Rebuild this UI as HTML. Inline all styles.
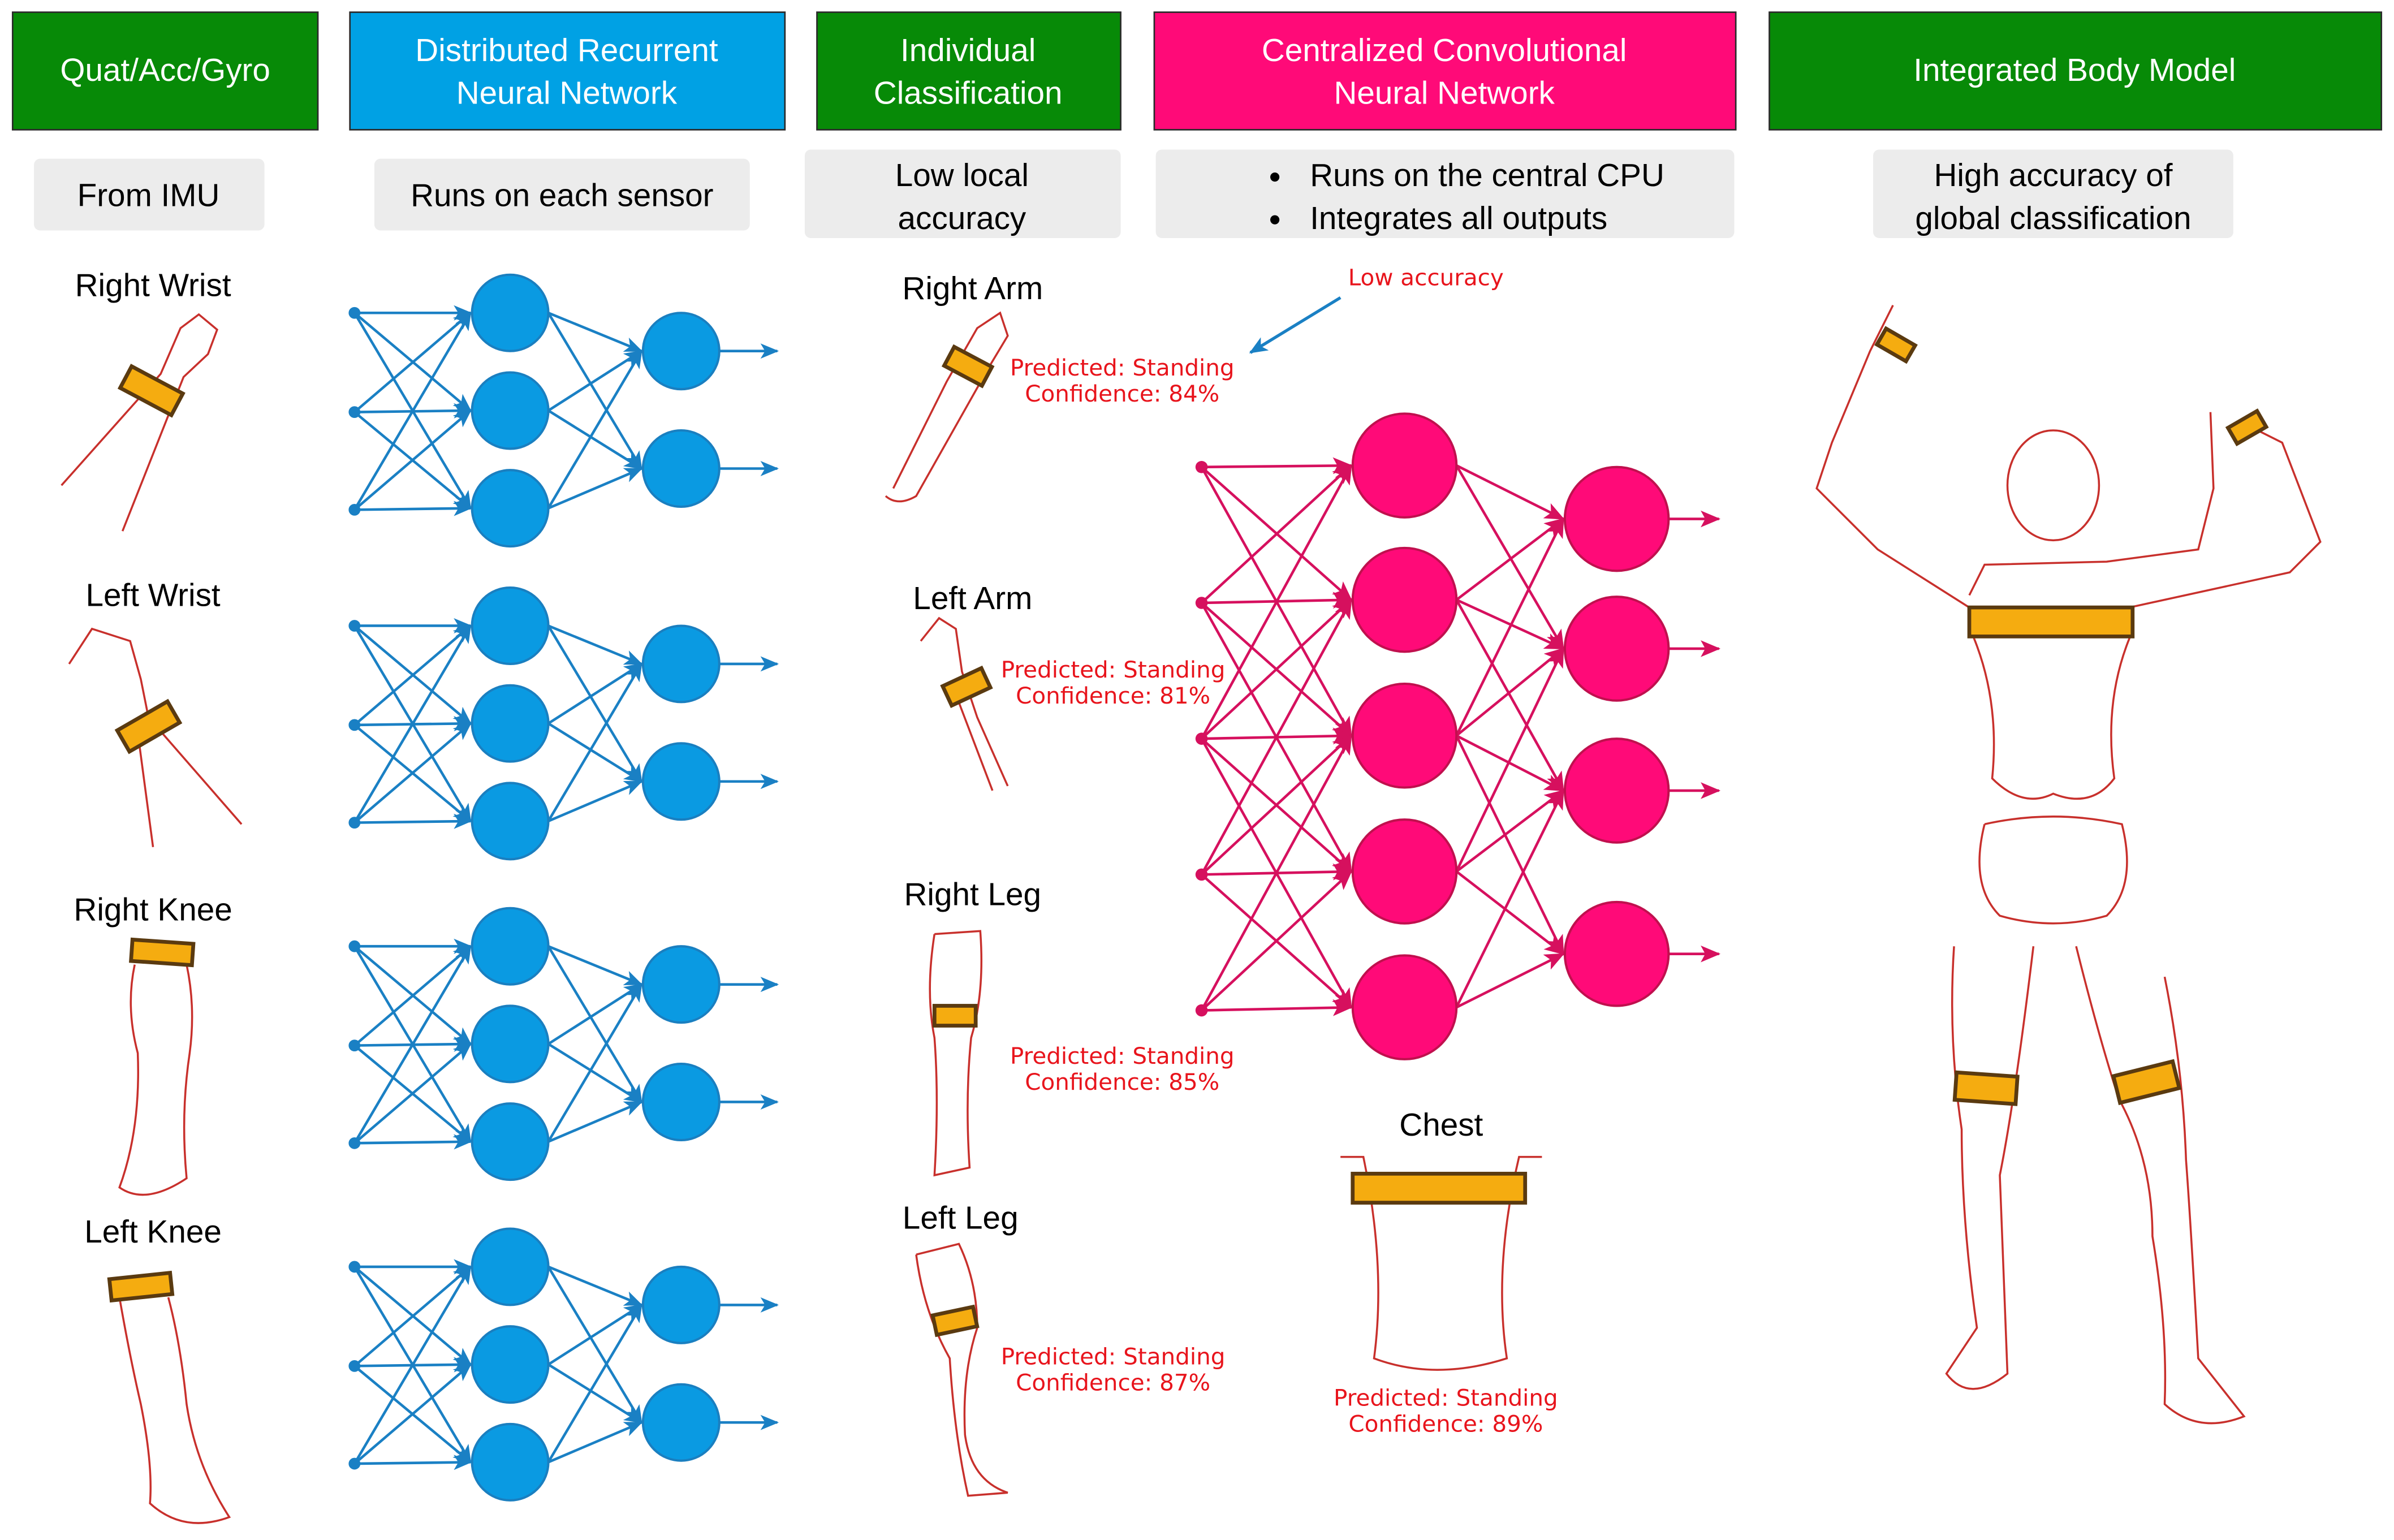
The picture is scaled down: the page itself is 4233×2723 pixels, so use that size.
<!DOCTYPE html>
<html><head><meta charset="utf-8"><style>
html,body{margin:0;padding:0;background:#fff}
svg{display:block}
text{font-family:"Liberation Sans",sans-serif}
.rd text{font-family:"DejaVu Sans",sans-serif}
</style></head><body>
<svg width="4233" height="2723" viewBox="0 0 1568 1009" xmlns="http://www.w3.org/2000/svg">
<defs>
<marker id="ab" markerWidth="12" markerHeight="10" refX="11" refY="5" orient="auto" markerUnits="userSpaceOnUse"><path d="M0,0 L12,5 L0,10 L3,5z" fill="#1a80c4"/></marker>
<marker id="ap" markerWidth="13" markerHeight="11" refX="12" refY="5.5" orient="auto" markerUnits="userSpaceOnUse"><path d="M0,0 L13,5.5 L0,11 L3,5.5z" fill="#d6105e"/></marker>
<g id="bn" stroke="#1a80c4" stroke-width="1.7" fill="none">
<g marker-end="url(#ab)">
<line x1="232" y1="205" x2="308" y2="205"/><line x1="232" y1="205" x2="308" y2="269"/><line x1="232" y1="205" x2="308" y2="333"/>
<line x1="232" y1="270" x2="308" y2="205"/><line x1="232" y1="270" x2="308" y2="269"/><line x1="232" y1="270" x2="308" y2="333"/>
<line x1="232" y1="334" x2="308" y2="205"/><line x1="232" y1="334" x2="308" y2="269"/><line x1="232" y1="334" x2="308" y2="333"/>
<line x1="359" y1="205" x2="420" y2="230"/><line x1="359" y1="205" x2="420" y2="307"/>
<line x1="359" y1="269" x2="420" y2="230"/><line x1="359" y1="269" x2="420" y2="307"/>
<line x1="359" y1="333" x2="420" y2="230"/><line x1="359" y1="333" x2="420" y2="307"/>
<line x1="471" y1="230" x2="509" y2="230"/><line x1="471" y1="307" x2="509" y2="307"/>
</g>
<circle cx="232" cy="205" r="3" fill="#1a80c4"/><circle cx="232" cy="270" r="3" fill="#1a80c4"/><circle cx="232" cy="334" r="3" fill="#1a80c4"/>
<g fill="#0a9ae2" stroke="#1a7fc0" stroke-width="1.5"><circle cx="334" cy="205" r="25"/><circle cx="334" cy="269" r="25"/><circle cx="334" cy="333" r="25"/><circle cx="446" cy="230" r="25"/><circle cx="446" cy="307" r="25"/></g>
</g>
</defs>

<g stroke="#2a2a2a" stroke-width="1">
<rect x="8" y="8" width="200" height="77" fill="#078a07"/>
<rect x="229" y="8" width="285" height="77" fill="#00a1e4"/>
<rect x="535" y="8" width="199" height="77" fill="#078a07"/>
<rect x="756" y="8" width="381" height="77" fill="#ff0a78"/>
<rect x="1159" y="8" width="401" height="77" fill="#078a07"/>
</g>
<g fill="#fff" font-size="21" text-anchor="middle">
<text x="108" y="53">Quat/Acc/Gyro</text>
<text x="371" y="40">Distributed Recurrent</text><text x="371" y="68">Neural Network</text>
<text x="634" y="40">Individual</text><text x="634" y="68">Classification</text>
<text x="946" y="40">Centralized Convolutional</text><text x="946" y="68">Neural Network</text>
<text x="1359" y="53">Integrated Body Model</text>
</g>
<g fill="#ececec">
<rect x="22" y="104" width="151" height="47" rx="4"/>
<rect x="245" y="104" width="246" height="47" rx="4"/>
<rect x="527" y="98" width="207" height="58" rx="4"/>
<rect x="757" y="98" width="379" height="58" rx="4"/>
<rect x="1227" y="98" width="236" height="58" rx="4"/>
</g>
<g fill="#000" font-size="21" text-anchor="middle">
<text x="97" y="135">From IMU</text>
<text x="368" y="135">Runs on each sensor</text>
<text x="630" y="122">Low local</text><text x="630" y="150">accuracy</text>
<text x="1345" y="122">High accuracy of</text><text x="1345" y="150">global classification</text>
</g>
<g font-size="21" fill="#000">
<circle cx="835" cy="116" r="3"/><text x="858" y="122">Runs on the central CPU</text>
<circle cx="835" cy="144" r="3"/><text x="858" y="150">Integrates all outputs</text>
</g>

<g font-size="21" fill="#000" text-anchor="middle">
<text x="100" y="194">Right Wrist</text>
<text x="100" y="397">Left Wrist</text>
<text x="100" y="603">Right Knee</text>
<text x="100" y="814">Left Knee</text>
<text x="637" y="196">Right Arm</text>
<text x="637" y="399">Left Arm</text>
<text x="637" y="593">Right Leg</text>
<text x="629" y="805">Left Leg</text>
<text x="944" y="744">Chest</text>
</g>
<g class="rd" font-size="15" fill="#e8141c" text-anchor="middle">
<text x="735" y="246">Predicted: Standing</text><text x="735" y="263">Confidence: 84%</text>
<text x="729" y="444">Predicted: Standing</text><text x="729" y="461">Confidence: 81%</text>
<text x="735" y="697">Predicted: Standing</text><text x="735" y="714">Confidence: 85%</text>
<text x="729" y="894">Predicted: Standing</text><text x="729" y="911">Confidence: 87%</text>
<text x="947" y="921">Predicted: Standing</text><text x="947" y="938">Confidence: 89%</text>
<text x="934" y="187">Low accuracy</text>
</g>
<line x1="878" y1="195" x2="819" y2="231" stroke="#1a80c4" stroke-width="2" marker-end="url(#ab)"/>

<use href="#bn"/>
<use href="#bn" transform="translate(0,205)"/>
<use href="#bn" transform="translate(0,415)"/>
<use href="#bn" transform="translate(0,625)"/>

<g stroke="#d6105e" stroke-width="1.7" fill="none" marker-end="url(#ap)">
<line x1="787" y1="306" x2="885" y2="305"/><line x1="787" y1="306" x2="885" y2="393"/><line x1="787" y1="306" x2="885" y2="482"/>
<line x1="787" y1="395" x2="885" y2="305"/><line x1="787" y1="395" x2="885" y2="393"/><line x1="787" y1="395" x2="885" y2="482"/><line x1="787" y1="395" x2="885" y2="571"/>
<line x1="787" y1="484" x2="885" y2="305"/><line x1="787" y1="484" x2="885" y2="393"/><line x1="787" y1="484" x2="885" y2="482"/><line x1="787" y1="484" x2="885" y2="571"/><line x1="787" y1="484" x2="885" y2="660"/>
<line x1="787" y1="573" x2="885" y2="393"/><line x1="787" y1="573" x2="885" y2="482"/><line x1="787" y1="573" x2="885" y2="571"/><line x1="787" y1="573" x2="885" y2="660"/>
<line x1="787" y1="662" x2="885" y2="482"/><line x1="787" y1="662" x2="885" y2="571"/><line x1="787" y1="662" x2="885" y2="660"/>
<line x1="954" y1="305" x2="1024" y2="340"/><line x1="954" y1="305" x2="1024" y2="425"/>
<line x1="954" y1="393" x2="1024" y2="340"/><line x1="954" y1="393" x2="1024" y2="425"/><line x1="954" y1="393" x2="1024" y2="518"/>
<line x1="954" y1="482" x2="1024" y2="340"/><line x1="954" y1="482" x2="1024" y2="425"/><line x1="954" y1="482" x2="1024" y2="518"/><line x1="954" y1="482" x2="1024" y2="625"/>
<line x1="954" y1="571" x2="1024" y2="425"/><line x1="954" y1="571" x2="1024" y2="518"/><line x1="954" y1="571" x2="1024" y2="625"/>
<line x1="954" y1="660" x2="1024" y2="518"/><line x1="954" y1="660" x2="1024" y2="625"/>
<line x1="1093" y1="340" x2="1126" y2="340"/><line x1="1093" y1="425" x2="1126" y2="425"/><line x1="1093" y1="518" x2="1126" y2="518"/><line x1="1093" y1="625" x2="1126" y2="625"/>
</g>
<g fill="#d6105e"><circle cx="787" cy="306" r="4"/><circle cx="787" cy="395" r="4"/><circle cx="787" cy="484" r="4"/><circle cx="787" cy="573" r="4"/><circle cx="787" cy="662" r="4"/></g>
<g fill="#ff0a78" stroke="#c0104e" stroke-width="1.5">
<circle cx="920" cy="305" r="34"/><circle cx="920" cy="393" r="34"/><circle cx="920" cy="482" r="34"/><circle cx="920" cy="571" r="34"/><circle cx="920" cy="660" r="34"/>
<circle cx="1059" cy="340" r="34"/><circle cx="1059" cy="425" r="34"/><circle cx="1059" cy="518" r="34"/><circle cx="1059" cy="625" r="34"/>
</g>

<g fill="none" stroke="#c8302c" stroke-width="1.3">
<path d="M40,318 L105,245 L118,215 L130,206 L142,216 L136,232 L120,247 L80,348"/>
<path d="M45,435 L60,412 L85,420 L92,445 L97,470 L158,540 M90,480 L100,555"/>
<path d="M88,632 Q82,660 90,690 Q92,740 78,778 Q95,790 122,772 Q118,730 124,690 Q128,660 122,632"/>
<path d="M78,850 Q85,890 92,920 Q100,960 98,985 Q120,1005 150,994 Q128,960 122,920 Q118,880 110,850"/>
<path d="M585,320 L620,250 L640,215 L655,205 L660,220 L648,240 L600,325 Q588,332 580,325"/>
<path d="M603,420 L615,405 L626,412 L630,440 L640,470 L660,515 M626,455 L650,518"/>
<path d="M612,612 L642,610 Q645,650 636,680 Q632,720 635,765 L612,770 Q615,720 612,680 Q606,650 612,612"/>
<path d="M600,822 L628,815 Q640,840 640,870 Q630,900 632,940 Q636,970 660,978 L634,980 Q625,940 622,890 Q605,860 600,822"/>
<path d="M878,758 L893,758 Q908,830 900,890 Q940,905 987,890 Q978,830 995,758 L1010,758"/>
<ellipse cx="1345" cy="318" rx="30" ry="36"/>
<path d="M1290,398 L1230,360 L1190,320 L1200,290 L1225,230 L1240,200 M1290,390 L1300,370 L1380,368 L1440,360 L1450,320 L1448,270 M1395,398 L1500,375 L1520,355 L1495,290 L1475,280"/>
<path d="M1293,418 Q1310,460 1305,510 Q1325,530 1345,520 Q1370,530 1385,510 Q1378,460 1395,418"/>
<path d="M1300,540 Q1290,580 1310,600 Q1345,610 1380,600 Q1400,580 1390,540 Q1345,530 1300,540"/>
<path d="M1280,620 Q1276,680 1285,740 Q1285,800 1295,870 L1275,900 Q1290,920 1315,900 L1310,770 Q1320,720 1332,620"/>
<path d="M1360,620 Q1375,680 1388,720 Q1410,760 1410,810 Q1420,870 1418,920 Q1440,940 1470,928 L1440,890 Q1435,800 1432,760 Q1430,700 1418,640"/>
</g>
<g fill="#f5ac10" stroke="#5a3a10" stroke-width="2.5">
<rect x="80" y="248" width="38" height="16" transform="rotate(28 99 256)"/>
<rect x="78" y="468" width="38" height="16" transform="rotate(-30 97 476)"/>
<rect x="86" y="617" width="40" height="14" transform="rotate(4 106 624)"/>
<rect x="72" y="836" width="40" height="14" transform="rotate(-6 92 843)"/>
<rect x="620" y="233" width="28" height="14" transform="rotate(28 634 240)"/>
<rect x="619" y="443" width="28" height="14" transform="rotate(-25 633 450)"/>
<rect x="612" y="659" width="27" height="13"/>
<rect x="612" y="859" width="27" height="13" transform="rotate(-12 625 866)"/>
<rect x="886" y="769" width="113" height="19"/>
<rect x="1290" y="398" width="107" height="19"/>
<rect x="1231" y="220" width="22" height="12" transform="rotate(30 1242 226)"/>
<rect x="1461" y="274" width="22" height="12" transform="rotate(-30 1472 280)"/>
<rect x="1281" y="704" width="40" height="18" transform="rotate(4 1301 713)"/>
<rect x="1386" y="700" width="40" height="18" transform="rotate(-14 1406 709)"/>
</g>
</svg>
</body></html>
